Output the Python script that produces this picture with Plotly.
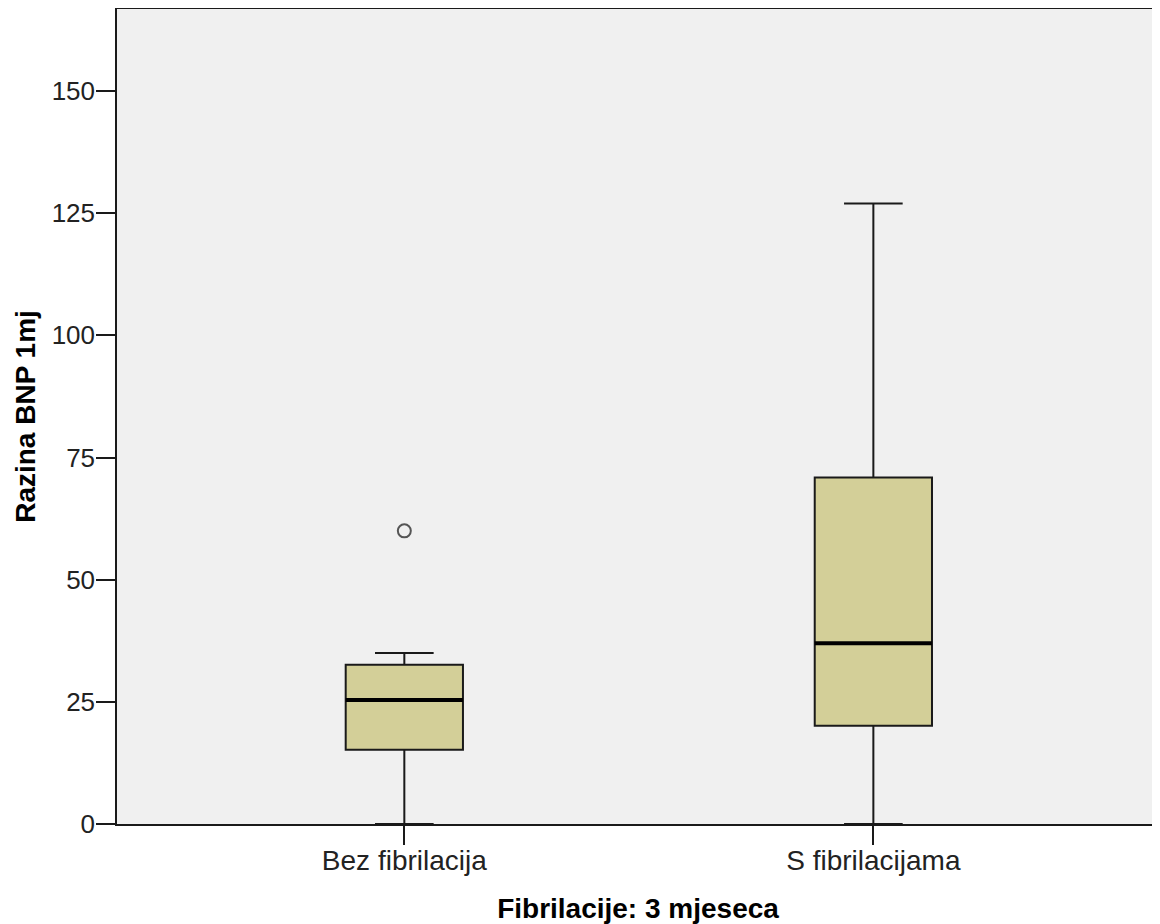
import plotly.graph_objects as go

categories = ["Bez fibrilacija", "S fibrilacijama"]
q1 = [15.2, 20.1]
median = [25.4, 37.0]
q3 = [32.6, 70.9]
lower_whisker = [0.0, 0.0]
upper_whisker = [35.0, 127.0]
outlier_group = [0]
outlier_values = [60.0]
y_ticks = [0, 25, 50, 75, 100, 125, 150]

BOX_W = 0.25
FILL = "#D3CF98"
LINE = "#1a1a1a"
FONT = "Liberation Sans, Arial, sans-serif"

fig = go.Figure()
for i, cat in enumerate(categories):
    fig.add_trace(go.Box(
        x=[i], q1=[q1[i]], median=[median[i]], q3=[q3[i]],
        lowerfence=[lower_whisker[i]], upperfence=[upper_whisker[i]],
        width=BOX_W, whiskerwidth=0.5,
        fillcolor=FILL, line=dict(color=LINE, width=2),
        boxpoints=False, name=cat, showlegend=False, hoverinfo="skip",
    ))
    fig.add_trace(go.Scatter(
        x=[i - BOX_W / 2, i + BOX_W / 2], y=[median[i], median[i]],
        mode="lines", line=dict(color="#000000", width=4),
        showlegend=False, hoverinfo="skip",
    ))

fig.add_trace(go.Scatter(
    x=outlier_group, y=outlier_values, mode="markers",
    marker=dict(symbol="circle-open", size=13, color="#555555", line=dict(width=2)),
    showlegend=False, hoverinfo="skip",
))

# page body has an 8px default margin; size the figure so it fits the window
fig.update_layout(
    width=1152, height=916,
    margin=dict(l=109, r=1, t=1, b=100),
    paper_bgcolor="white", plot_bgcolor="#F0F0F0",
    font=dict(family=FONT, size=27, color="#222222"),
    showlegend=False,
)
fig.update_xaxes(
    automargin=False,
    range=[-0.6126, 1.609], tickvals=list(range(len(categories))), ticktext=categories,
    showgrid=False, zeroline=False, showline=True, linecolor=LINE, linewidth=1.5, mirror=True,
    ticks="outside", ticklen=19, tickwidth=1.5, tickcolor=LINE,
    ticklabelstandoff=-8,
    tickfont=dict(size=28, family=FONT, color="#222222"),
    title=dict(text="<b>Fibrilacije: 3 mjeseca</b>", font=dict(size=28, family=FONT, color="#000000"), standoff=24),
)
fig.update_yaxes(
    automargin=False,
    range=[0, 166.8], tickvals=y_ticks,
    showgrid=False, zeroline=False, showline=True, linecolor=LINE, linewidth=1.5, mirror=True,
    ticks="outside", ticklen=19, tickwidth=1.5, tickcolor=LINE,
    ticklabelstandoff=-4,
    tickfont=dict(size=26, family=FONT, color="#222222"),
    title=dict(text="<b>Razina BNP 1mj</b>", font=dict(size=28, family=FONT, color="#000000"), standoff=8),
)

fig.write_html("out.html")
